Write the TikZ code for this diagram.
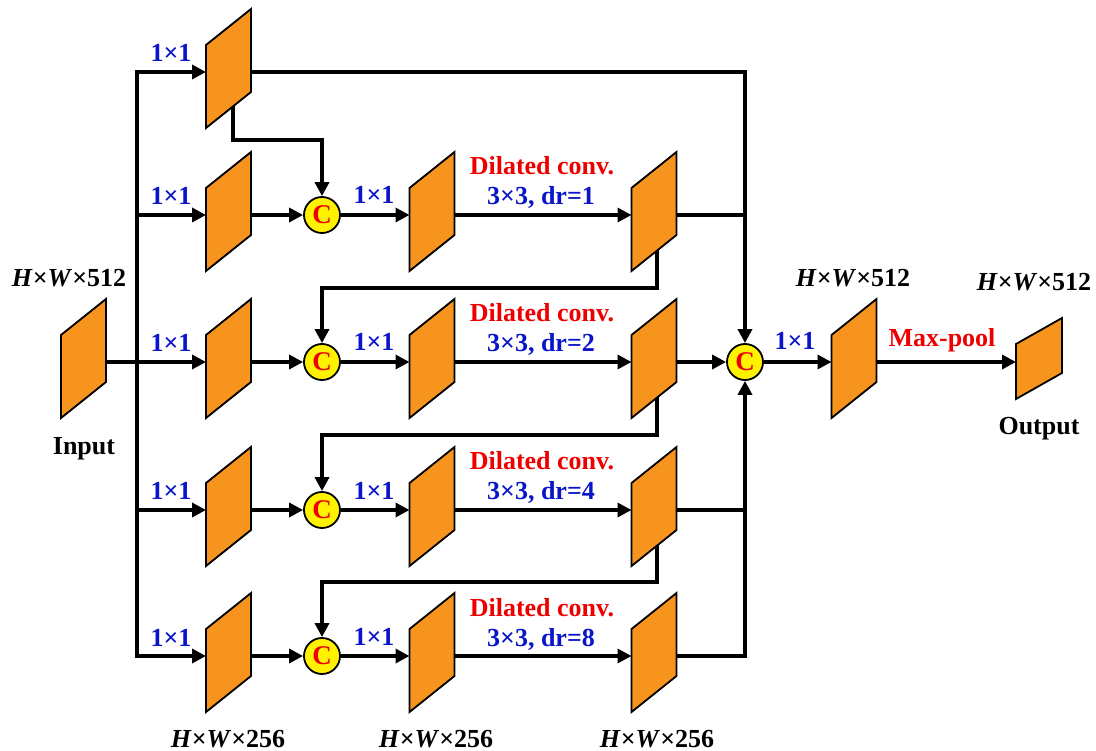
\documentclass[tikz,border=0pt]{standalone}
\usepackage{fontspec}
\setmainfont{Liberation Serif}
\usetikzlibrary{arrows.meta,calc}
\definecolor{blkorange}{RGB}{247,148,29}
\definecolor{cyellow}{RGB}{255,242,0}
\definecolor{lblred}{RGB}{238,0,0}
\definecolor{lblblue}{RGB}{10,20,200}
\begin{document}
\begin{tikzpicture}[x=1pt,y=-1pt,
  conn/.style={draw=black,line width=3.4pt,line join=miter},
  arr/.style={conn,-{Triangle[length=14pt,width=14pt]}},
  blk/.style={draw=none,minimum width=45pt,minimum height=47pt,inner sep=0pt,outer sep=0pt},
  sblk/.style={blk,minimum width=46pt,minimum height=29pt},
  cat/.style={circle,draw=black,line width=1.8pt,fill=cyellow,minimum size=36pt,inner sep=0pt,
    font=\fontsize{27}{27}\selectfont\bfseries,text=lblred},
  para/.style={fill=blkorange,draw=black,line width=1.8pt,line join=miter},
  lbl/.style={font=\fontsize{26}{31}\selectfont\bfseries,inner sep=0pt,anchor=base},
  bl/.style={lbl,text=lblblue},
  rd/.style={lbl,text=lblred}]
\useasboundingbox (0,0) rectangle (1096,751);
% blocks (shapes drawn later)
\node[blk] (I) at (83.5,362) {};
\node[blk] (a1) at (228.5,72) {};
\node[blk] (a2) at (228.5,215) {};
\node[blk] (a3) at (228.5,362) {};
\node[blk] (a4) at (228.5,510) {};
\node[blk] (a5) at (228.5,656) {};
\node[blk] (b2) at (432,215) {};
\node[blk] (b3) at (432,362) {};
\node[blk] (b4) at (432,510) {};
\node[blk] (b5) at (432,656) {};
\node[blk] (d2) at (654,215) {};
\node[blk] (d3) at (654,362) {};
\node[blk] (d4) at (654,510) {};
\node[blk] (d5) at (654,656) {};
\node[blk] (f) at (854,362) {};
\node[sblk] (o) at (1039,362) {};
% concatenation nodes
\node[cat] (c2) at (322,215) {C};
\node[cat] (c3) at (322,362) {C};
\node[cat] (c4) at (322,510) {C};
\node[cat] (c5) at (322,656) {C};
\node[cat] (cf) at (745,362) {C};
\coordinate (bus5) at (137,656);
% connectors
\draw[arr] (I.east) -- (a3.west);
\draw[arr] (bus5) |- (a1.west);
\draw[arr,line cap=rect] (bus5) -- (a5.west);
\draw[arr] (a2.west -| bus5) -- (a2.west);
\draw[arr] (a4.west -| bus5) -- (a4.west);
\draw[arr] ([xshift=4.5pt]a1.center) -- ++(0,68) -| (c2.north);
\draw[arr] (a1.east) -| (cf.north);
\foreach \k in {2,3,4,5}{
  \draw[arr] (a\k.east) -- (c\k.west);
  \draw[arr] (c\k.east) -- (b\k.west);
  \draw[arr] (b\k.east) -- (d\k.west);
}
\draw[arr] ([xshift=3pt]d2.center) -- ++(0,73) -| (c3.north);
\draw[arr] ([xshift=3pt]d3.center) -- ++(0,73) -| (c4.north);
\draw[arr] ([xshift=3pt]d4.center) -- ++(0,72) -| (c5.north);
\draw[conn] (d2.east) -- (d2.east -| cf.north);
\draw[arr] (d3.east) -- (cf.west);
\draw[conn] (d4.east) -- (d4.east -| cf.south);
\draw[arr] (d5.east) -| (cf.south);
\draw[arr] (cf.east) -- (f.west);
\draw[arr] (f.east) -- (o.west);
% parallelogram feature maps
\foreach \n/\s in {I/36,a1/36,a2/36,a3/36,a4/36,a5/36,b2/36,b3/36,b4/36,b5/36,d2/36,d3/36,d4/36,d5/36,f/36,o/26}{
  \draw[para] ([yshift=3.5pt]\n.north west) -- ([yshift=3.5pt+\s pt]\n.north east)
    -- ([yshift=3.5pt]\n.south east) -- ([yshift=3.5pt-\s pt]\n.south west) -- cycle;
}
% labels
\node[lbl] (tin) at (69,287) {\textit{H}×\textit{W}×512};
\node[lbl] (tinp) at (84,455) {Input};
\node[lbl] (tf) at (853,287) {\textit{H}×\textit{W}×512};
\node[lbl] (to) at (1034,291) {\textit{H}×\textit{W}×512};
\node[lbl] (tout) at (1039,435) {Output};
\node[bl] (k1) at (171,62) {1×1};
\node[bl] (k2) at (171,205) {1×1};
\node[bl] (k3) at (171,352) {1×1};
\node[bl] (k4) at (171,500) {1×1};
\node[bl] (k5) at (171,646) {1×1};
\node[bl] (m2) at (374,204) {1×1};
\node[bl] (m3) at (374,351) {1×1};
\node[bl] (m4) at (374,499) {1×1};
\node[bl] (m5) at (374,645) {1×1};
\node[rd] (dc2) at (542,175) {Dilated conv.};
\node[rd] (dc3) at (542,322) {Dilated conv.};
\node[rd] (dc4) at (542,470) {Dilated conv.};
\node[rd] (dc5) at (542,616) {Dilated conv.};
\node[bl] (dr2) at (541,205) {3×3, dr=1};
\node[bl] (dr3) at (541,352) {3×3, dr=2};
\node[bl] (dr4) at (541,500) {3×3, dr=4};
\node[bl] (dr5) at (541,646) {3×3, dr=8};
\node[bl] (mf) at (795,350) {1×1};
\node[rd] (mp) at (942,347) {Max-pool};
\node[lbl] (s1) at (228,747) {\textit{H}×\textit{W}×256};
\node[lbl] (s2) at (436,747) {\textit{H}×\textit{W}×256};
\node[lbl] (s3) at (657,747) {\textit{H}×\textit{W}×256};
\end{tikzpicture}
\end{document}
